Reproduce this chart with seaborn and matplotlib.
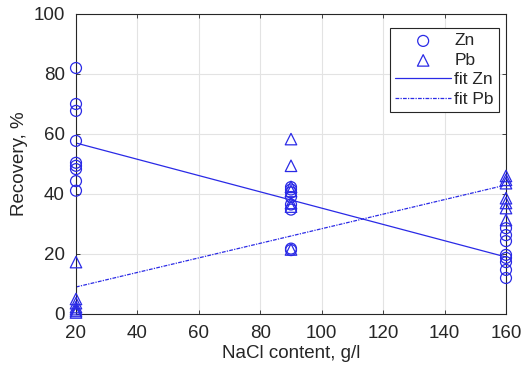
import numpy as np
import pandas as pd
import matplotlib
matplotlib.use("Agg")
import matplotlib.pyplot as plt
import seaborn as sns

# Recovery measurements at each NaCl level (g/l)
zn_20 = [82.0, 70.0, 67.7, 57.7, 50.4, 49.4, 48.3, 44.3, 41.1]
zn_90 = [42.3, 41.5, 40.5, 39.0, 36.5, 34.8, 21.8, 21.3]
zn_160 = [28.6, 26.3, 24.3, 19.7, 18.7, 17.3, 14.7, 12.0]
pb_20 = [17.3, 5.0, 3.6, 2.3, 1.6, 1.0, 0.5]
pb_90 = [58.3, 49.4, 42.4, 41.0, 37.0, 35.8, 21.5]
pb_160 = [46.0, 44.7, 43.6, 38.6, 37.0, 35.3, 31.3]

# Linear fits evaluated at the ends of the NaCl range
fit_x = [20, 160]
fit_zn = [57.0, 19.0]
fit_pb = [9.0, 43.0]

xticks = [20, 40, 60, 80, 100, 120, 140, 160]
yticks = [0, 20, 40, 60, 80, 100]

blue = "#2a2ae6"
ink = "#262626"


def long_form(groups):
    xs, ys = [], []
    for x, vals in groups:
        xs += [x] * len(vals)
        ys += vals
    return pd.DataFrame({"nacl": xs, "recovery": ys})


zn = long_form([(20, zn_20), (90, zn_90), (160, zn_160)])
pb = long_form([(20, pb_20), (90, pb_90), (160, pb_160)])
fits = pd.DataFrame({"nacl": fit_x, "zn": fit_zn, "pb": fit_pb})

sns.set_theme(style="white")
plt.rcParams["font.family"] = ["Liberation Sans", "DejaVu Sans"]

fig = plt.figure(figsize=(5.31, 3.71), dpi=100)
ax = fig.add_axes([76 / 531, 57 / 371, 430 / 531, 300 / 371])

sns.scatterplot(data=zn, x="nacl", y="recovery", ax=ax, marker="o", s=62,
                facecolor="none", edgecolor=blue, linewidth=0.9, label="Zn",
                zorder=3, clip_on=False)
sns.scatterplot(data=pb, x="nacl", y="recovery", ax=ax, marker="^", s=68,
                facecolor="none", edgecolor=blue, linewidth=0.9, label="Pb",
                zorder=3, clip_on=False)
sns.lineplot(data=fits, x="nacl", y="zn", ax=ax, color=blue, lw=0.9,
             label="fit Zn")
sns.lineplot(data=fits, x="nacl", y="pb", ax=ax, color=blue, lw=0.9,
             linestyle=(0, (3, 1, 1, 1)), label="fit Pb")

ax.set_xlim(20, 160)
ax.set_ylim(0, 100)
ax.set_xticks(xticks)
ax.set_yticks(yticks)
ax.grid(True, color="#e3e3e3", lw=0.8)
ax.set_axisbelow(True)
for s in ax.spines.values():
    s.set_color(ink)
    s.set_linewidth(0.8)
ax.tick_params(direction="in", length=3, width=0.6, colors=ink,
               labelsize=13.5, top=True, right=True, bottom=True, left=True,
               labelcolor=ink)
ax.tick_params(axis="x", pad=8)
ax.tick_params(axis="y", pad=8)
ax.set_xlabel("NaCl content, g/l", fontsize=13.5, color=ink, labelpad=2)
ax.set_ylabel("Recovery, %", fontsize=13.5, color=ink, labelpad=4)

leg = ax.legend(loc="upper right", bbox_to_anchor=(0.984, 0.953), fontsize=12.5,
                frameon=True, fancybox=False, edgecolor=ink,
                framealpha=1, borderpad=0.3, handlelength=3.2,
                labelspacing=0.25, handletextpad=0.2, borderaxespad=0)
leg.get_frame().set_linewidth(0.8)

fig.savefig("out.png", dpi=100)
